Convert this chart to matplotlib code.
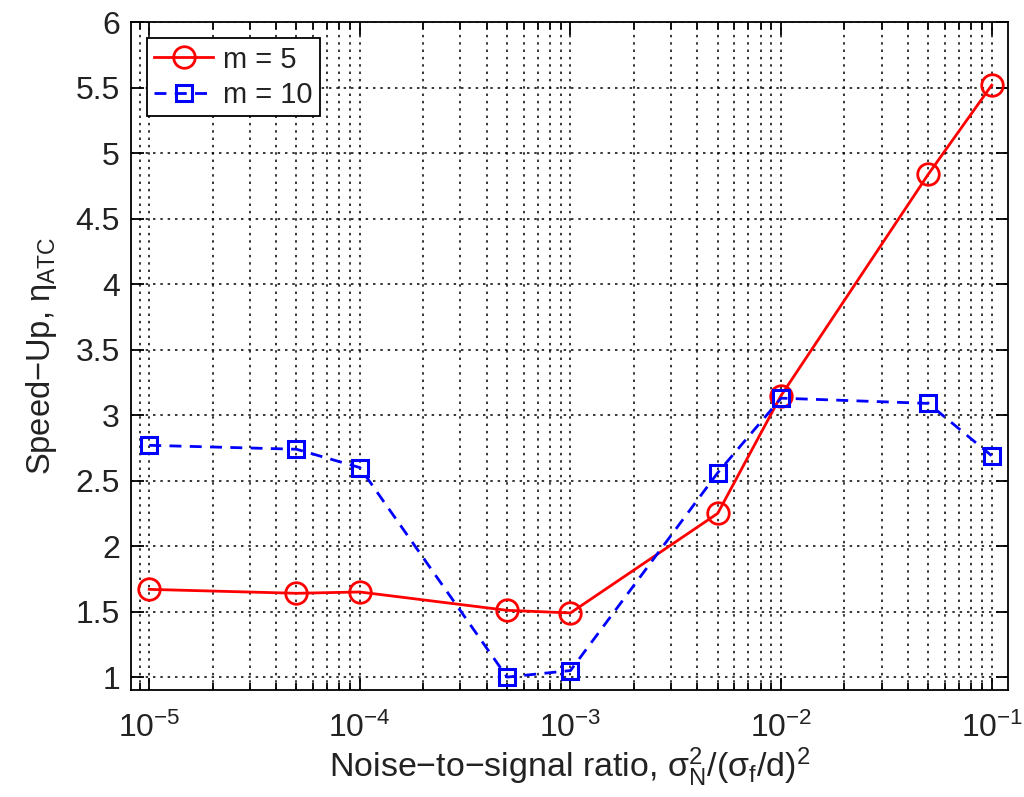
import numpy as np
import matplotlib
matplotlib.use('Agg')
import matplotlib.pyplot as plt
from matplotlib.ticker import LogLocator, NullFormatter

# data
ratio = [1e-5, 5e-5, 1e-4, 5e-4, 1e-3, 5e-3, 1e-2, 5e-2, 1e-1]
speedup_m5 = [1.67, 1.64, 1.65, 1.51, 1.49, 2.25, 3.15, 4.84, 5.52]
speedup_m10 = [2.77, 2.74, 2.60, 1.00, 1.05, 2.56, 3.13, 3.09, 2.69]
yticks = [1, 1.5, 2, 2.5, 3, 3.5, 4, 4.5, 5, 5.5, 6]
ytick_labels = ['1', '1.5', '2', '2.5', '3', '3.5', '4', '4.5', '5', '5.5', '6']

plt.rcParams['font.family'] = ['Liberation Sans', 'DejaVu Sans']
plt.rcParams['mathtext.fontset'] = 'custom'
plt.rcParams['mathtext.rm'] = 'Liberation Sans'
plt.rcParams['mathtext.it'] = 'Liberation Sans:italic'
plt.rcParams['mathtext.default'] = 'regular'

txt = '#222222'
fig = plt.figure(figsize=(10.24, 7.97), dpi=100)
ax = fig.add_axes([0.128, 0.134, 0.856, 0.838])

ax.plot(ratio, speedup_m5, '-o', color='red', lw=2, ms=15.5, mfc='none', mew=2, label='m = 5')
ax.plot(ratio, speedup_m10, '--s', color='blue', lw=2, ms=11, mfc='none', mew=2.2,
        dashes=(4.3, 3), label='m = 10')

ax.set_xscale('log')
ax.set_xlim(8.2e-6, 0.119)
ax.set_ylim(0.9, 6)
ax.set_yticks(yticks)
ax.set_yticklabels(ytick_labels)
ax.xaxis.set_major_locator(LogLocator(base=10, numticks=10))
ax.xaxis.set_minor_locator(LogLocator(base=10, subs=np.arange(2, 10), numticks=20))
ax.xaxis.set_minor_formatter(NullFormatter())

grid_ls = (0, (1.6, 3.2))
ax.grid(True, which='major', linestyle=grid_ls, color='black', lw=1.1)
ax.grid(True, which='minor', axis='x', linestyle=grid_ls, color='black', lw=1.1)
ax.tick_params(which='both', direction='in', top=True, right=True, labelsize=23,
               width=1.3, labelcolor=txt)
ax.tick_params(which='major', length=9)
ax.tick_params(axis='x', which='major', pad=16)
ax.tick_params(axis='y', which='major', pad=8)
ax.tick_params(which='minor', length=5)
for s in ax.spines.values():
    s.set_linewidth(1.3)

ax.set_xlabel('Noise\u2212to\u2212signal ratio, σ$_\\mathrm{N}^\\mathrm{2}$/(σ$_\\mathrm{f}$/d)$^\\mathrm{2}$',
              fontsize=24.5, color=txt, labelpad=1)
ax.set_ylabel('Speed\u2212Up, η$_\\mathrm{ATC}$', fontsize=23.5, color=txt, labelpad=12)

leg = ax.legend(loc='upper left', fontsize=21, fancybox=False, framealpha=1, edgecolor='black',
                handlelength=2.0, handletextpad=0.35, borderaxespad=0.55, borderpad=0.25,
                labelspacing=0.25)
leg.get_frame().set_linewidth(1.3)
for t in leg.get_texts():
    t.set_color(txt)

fig.savefig('out.png', dpi=100)
